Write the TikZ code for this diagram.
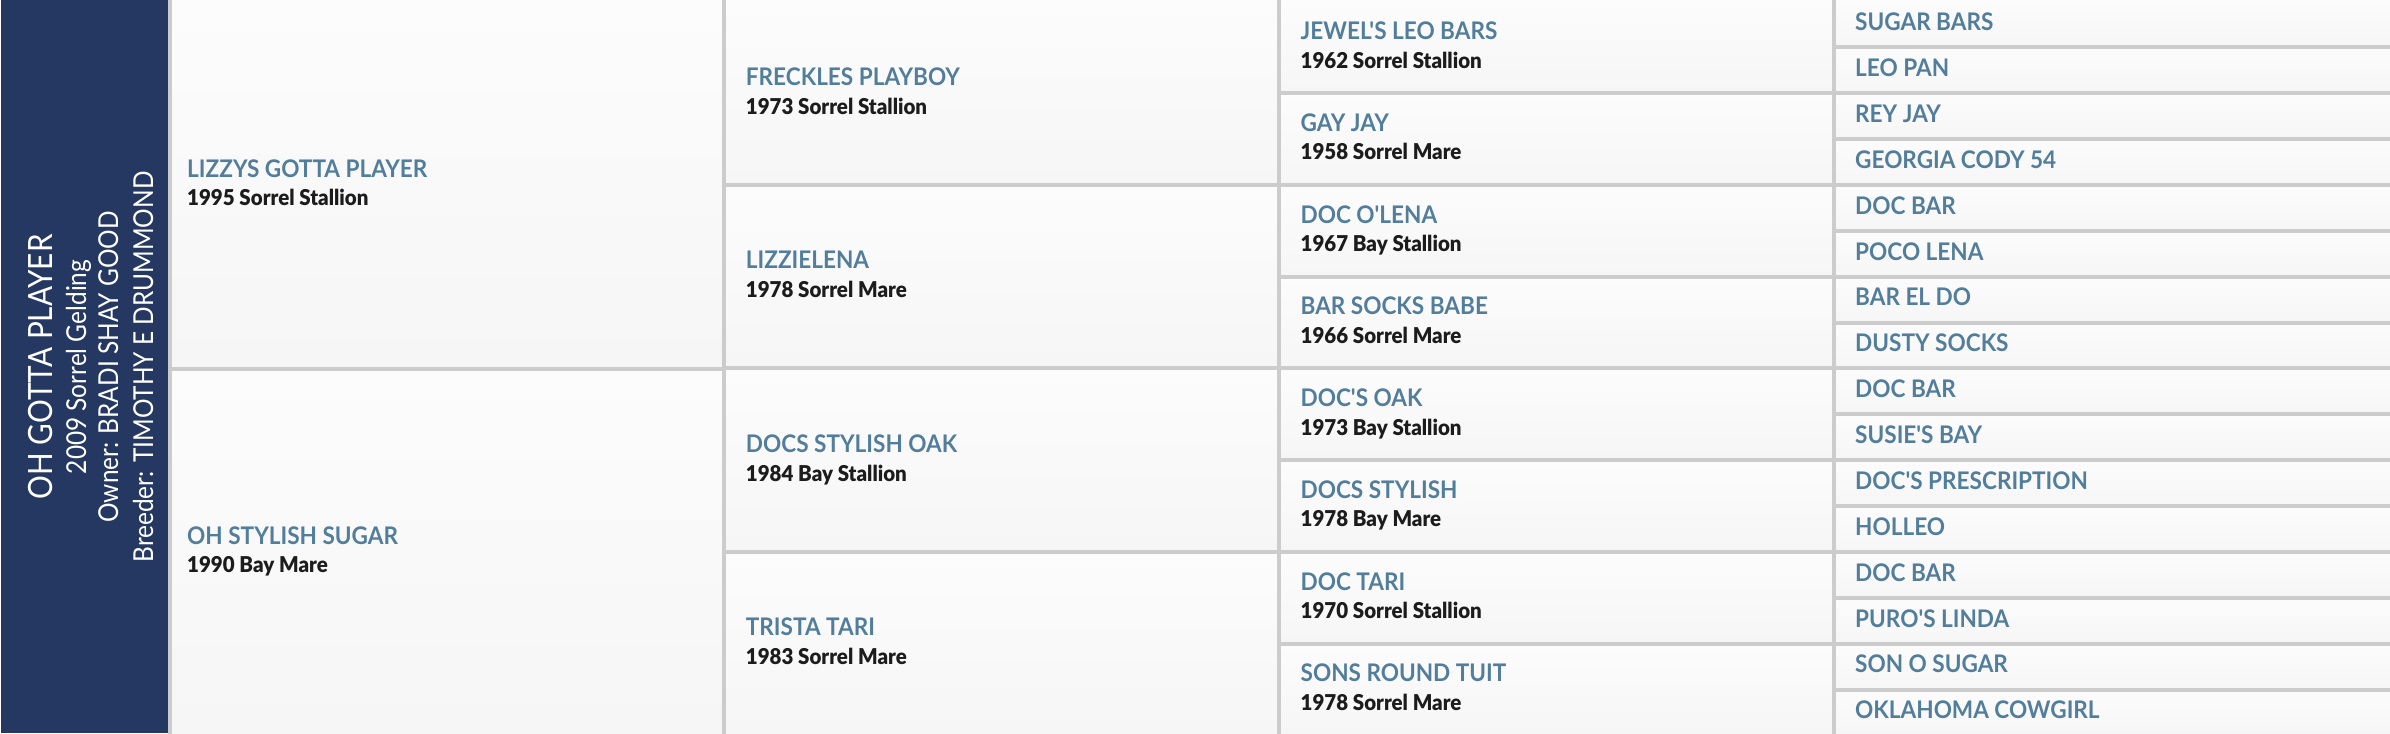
\documentclass[tikz,border=0pt]{standalone}
\usepackage{fontspec}
\setmainfont{Lato}
\newfontfamily\bandfont{Lato}[FakeStretch=0.89]
\newfontfamily\namefont{Lato Bold}[FakeStretch=0.93]
\newfontfamily\infofont{Lato Black}[FakeStretch=0.94]
\usepackage{xcolor}
\usepackage{tikz}
\definecolor{bandnavy}{HTML}{243862}
\definecolor{nameblue}{HTML}{527E9C}
\definecolor{infoblack}{HTML}{1C1C1C}
\definecolor{gridgrey}{HTML}{CCCCCC}
\definecolor{celltop}{HTML}{FCFCFC}
\definecolor{cellbottom}{HTML}{F6F6F6}
\tikzstyle{band} = [rectangle, anchor=south west, inner sep=0pt, minimum width=1.7cm, minimum height=7.34cm, fill=bandnavy]
\tikzstyle{bandtext} = [rotate=90, anchor=base, inner sep=0pt, text=white]
\tikzstyle{pedcell} = [rectangle, anchor=north west, inner sep=0pt, top color=celltop, bottom color=cellbottom]
\tikzstyle{horse} = [anchor=base west, inner sep=0pt, text=nameblue, font=\fontsize{6.9}{8}\namefont]
\tikzstyle{details} = [anchor=base west, inner sep=0pt, text=infoblack, font=\fontsize{6.2}{7}\infofont]
\tikzstyle{divider} = [draw=gridgrey, line width=0.04cm]

\begin{document}
\begin{tikzpicture}[x=0.01cm, y=0.01cm]
	\useasboundingbox (0,0) rectangle (2390,734);

	% the foal itself
	\node (foal) [band] at (0,0) {};
	\node (foal-name) [bandtext, font=\fontsize{9.5}{11}\bandfont] at (52,367) {OH GOTTA PLAYER};
	\node (foal-info) [bandtext, font=\fontsize{7.8}{9}\bandfont] at (86,367) {2009 Sorrel Gelding};
	\node (foal-owner) [bandtext, font=\fontsize{7.8}{9}\bandfont] at (118,367) {Owner: BRADI SHAY GOOD};
	\node (foal-breeder) [bandtext, font=\fontsize{7.8}{9}\bandfont] at (153,367) {Breeder: TIMOTHY E DRUMMOND};

	% sire and dam
	\foreach \id/\nm/\info [count=\i from 0] in {s/LIZZYS GOTTA PLAYER/1995 Sorrel Stallion, d/OH STYLISH SUGAR/1990 Bay Mare} {
		\node (\id) [pedcell, minimum width=5.547cm, minimum height=3.67cm] at (169.5,{734-367*\i}) {};
		\node (\id-name) [horse] at ([xshift=0.17cm, yshift=0.07cm]\id.west) {\nm};
		\node (\id-info) [details] at ([xshift=0.17cm, yshift=-0.21cm]\id.west) {\info};
	}

	% grandparents
	\foreach \id/\nm/\info [count=\i from 0] in {ss/FRECKLES PLAYBOY/1973 Sorrel Stallion, sd/LIZZIELENA/1978 Sorrel Mare, ds/DOCS STYLISH OAK/1984 Bay Stallion, dd/TRISTA TARI/1983 Sorrel Mare} {
		\node (\id) [pedcell, minimum width=5.547cm, minimum height=1.835cm] at (724.2,{734-183.5*\i}) {};
		\node (\id-name) [horse] at ([xshift=0.21cm, yshift=0.07cm]\id.west) {\nm};
		\node (\id-info) [details] at ([xshift=0.21cm, yshift=-0.215cm]\id.west) {\info};
	}

	% great-grandparents
	\foreach \id/\nm/\info [count=\i from 0] in {sss/JEWEL'S LEO BARS/1962 Sorrel Stallion, ssd/GAY JAY/1958 Sorrel Mare, sds/DOC O'LENA/1967 Bay Stallion, sdd/BAR SOCKS BABE/1966 Sorrel Mare, dss/DOC'S OAK/1973 Bay Stallion, dsd/DOCS STYLISH/1978 Bay Mare, dds/DOC TARI/1970 Sorrel Stallion, ddd/SONS ROUND TUIT/1978 Sorrel Mare} {
		\node (\id) [pedcell, minimum width=5.547cm, minimum height=0.9175cm] at (1278.9,{734-91.75*\i}) {};
		\node (\id-name) [horse] at ([xshift=0.21cm, yshift=0.07cm]\id.west) {\nm};
		\node (\id-info) [details] at ([xshift=0.21cm, yshift=-0.215cm]\id.west) {\info};
	}

	% fourth generation, names only
	\foreach \id/\nm [count=\i from 0] in {ssss/SUGAR BARS, sssd/LEO PAN, ssds/REY JAY, ssdd/GEORGIA CODY 54, sdss/DOC BAR, sdsd/POCO LENA, sdds/BAR EL DO, sddd/DUSTY SOCKS, dsss/DOC BAR, dssd/SUSIE'S BAY, dsds/DOC'S PRESCRIPTION, dsdd/HOLLEO, ddss/DOC BAR, ddsd/PURO'S LINDA, ddds/SON O SUGAR, dddd/OKLAHOMA COWGIRL} {
		\node (\id) [pedcell, minimum width=5.565cm, minimum height=0.45875cm] at (1833.5,{734-45.875*\i}) {};
		\node (\id-name) [horse] at ([xshift=0.21cm, yshift=-0.07cm]\id.west) {\nm};
	}

	% grid lines
	\draw [divider] (s.north west) -- (d.south west);
	\draw [divider] (ss.north west) -- (dd.south west);
	\draw [divider] (sss.north west) -- (ddd.south west);
	\draw [divider] (ssss.north west) -- (dddd.south west);
	\foreach \id in {s, ss, sd, ds, sss, ssd, sds, sdd, dss, dsd, dds, ssss, sssd, ssds, ssdd, sdss, sdsd, sdds, sddd, dsss, dssd, dsds, dsdd, ddss, ddsd, ddds}
		\draw [divider] (\id.south west) -- (\id.south east);
\end{tikzpicture}
\end{document}
